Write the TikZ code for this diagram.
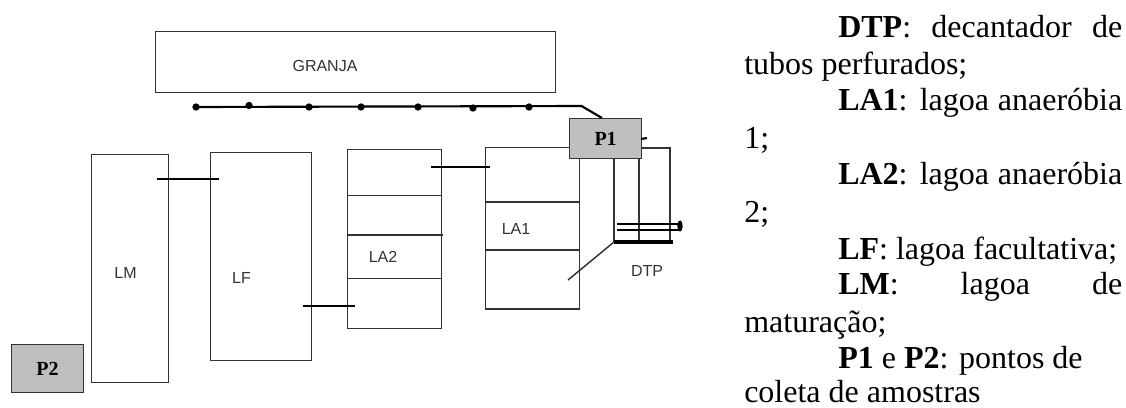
\documentclass[tikz,border=0pt]{standalone}
\usepackage{fontspec}
\usetikzlibrary{shapes.geometric}
\setmainfont{Liberation Serif}
\setsansfont{Liberation Sans}
\definecolor{pgray}{HTML}{BFBFBF}
\definecolor{ln}{HTML}{333333}
\tikzset{
 x=0.75pt,y=-0.75pt,
 tank/.style={draw=ln,line width=0.9pt,fill=white,inner sep=0,anchor=north west},
 thin line/.style={draw=ln,line width=0.9pt},
 pipe/.style={draw=black,line width=1.6pt},
 dotm/.style={circle,fill=black,inner sep=0,minimum size=5.5pt},
 point/.style={draw=ln,line width=0.9pt,fill=pgray,inner sep=0,font=\fontsize{15}{17}\bfseries\selectfont},
 lab/.style={font=\sffamily\fontsize{12}{14}\selectfont,text=ln,inner sep=0},
 txt/.style={anchor=base west,inner sep=0,font=\fontsize{24}{28}\selectfont},
}
\begin{document}
\begin{tikzpicture}
\useasboundingbox (0,0) rectangle (1126,407);
\node[tank,minimum width=300pt,minimum height=45.75pt] (granja) at (154.5,31) {};
\node[lab] (tg) at (325,66) {GRANJA};
\foreach \n/\x/\y in {d1/196/107,d2/249/105.5,d3/309/107,d4/361/107,d5/418/107,d6/473/108,d7/529/107}
  \node[dotm] (\n) at (\x,\y) {};
\coordinate (bend) at (581.5,106);
\coordinate (p1in) at (602,118);
\node[tank,minimum width=57.75pt,minimum height=171pt] (LM) at (90.5,154) {};
\node[tank,minimum width=76pt,minimum height=156pt] (LF) at (209.5,152) {};
\node[tank,minimum width=70.5pt,minimum height=134pt] (LA2) at (347,149) {};
\node[tank,minimum width=70.5pt,minimum height=121pt] (LA1) at (485,147) {};
\draw[thin line] (347,195.5) -- (441,195.5) (347,235) -- (443,235) (347,278.5) -- (441,278.5);
\draw[thin line] (485,202) -- (579,202) (485,250) -- (579,250);
\node[lab] (tlm) at (125.5,273) {LM};
\node[lab] (tlf) at (241.5,278) {LF};
\node[lab] (tla2) at (383,257) {LA2};
\node[lab] (tla1) at (516,229) {LA1};
\coordinate (c1a) at (157,179); \coordinate (c1b) at (219,179);
\coordinate (c2a) at (303,306); \coordinate (c2b) at (355,306);
\coordinate (c3a) at (431,167); \coordinate (c3b) at (490,167);
\draw[pipe] (c1a) -- (c1b);
\draw[pipe] (c2a) -- (c2b);
\draw[pipe] (c3a) -- (c3b);
\coordinate (t1) at (614,158); \coordinate (b1) at (614,242);
\coordinate (t2) at (639,158); \coordinate (b2) at (639,240);
\coordinate (t3) at (641,148); \coordinate (t4) at (670,148); \coordinate (b3) at (670,242);
\coordinate (b4) at (673,242);
\coordinate (inl) at (568,280);
\draw[thin line] (t1) -- (b1) (t2) -- (b2) (t3) -- (t4) -- (b3);
\draw[draw=black,line width=3.4pt] (b1) -- (b4);
\draw[draw=ln,line width=1.1pt] (b1) -- (inl);
\coordinate (s1a) at (617,224); \coordinate (s1b) at (680,224);
\coordinate (s2a) at (617,230); \coordinate (s2b) at (680,230);
\coordinate (s1c) at (660,224); \coordinate (s2c) at (660,230);
\draw[draw=black,line width=0.9pt] (s1a) -- (s1b) (s2a) -- (s2b);
\draw[draw=black,line width=1.9pt,dash pattern=on 3pt off 3pt] (s1a) -- (s1c) (s2a) -- (s2c);
\node[fill=black,ellipse,inner sep=0,minimum width=4pt,minimum height=8.5pt] (blob) at (680,226) {};
\node[lab] (tdtp) at (647,271) {DTP};
\node[point,minimum width=54pt,minimum height=30pt,anchor=north west] (P1) at (569,118) {P1};
\draw[pipe] (d1.center) -- (bend) -- (p1in);
\coordinate (tk1) at (641,139); \coordinate (tk2) at (647,138);
\draw[pipe] (tk1) -- (tk2);
\node[point,minimum width=54.5pt,minimum height=36pt,anchor=north west] (P2) at (10.5,344) {P2};
\node[txt] (l1) at (838,37) {\makebox[213pt][s]{\textbf{DTP}: decantador de}};
\node[txt] (l2) at (744,74) {tubos perfurados;};
\node[txt] (l3) at (838,110) {\makebox[213pt][s]{\textbf{LA1}: lagoa anaeróbia}};
\node[txt] (l4) at (744,148) {1;};
\node[txt] (l5) at (838,184) {\makebox[213pt][s]{\textbf{LA2}: lagoa anaeróbia}};
\node[txt] (l6) at (744,222) {2;};
\node[txt] (l7) at (838,259) {\textbf{LF}: lagoa facultativa;};
\node[txt] (l8) at (838,294) {\makebox[213pt][s]{\textbf{LM}: lagoa de}};
\node[txt] (l9) at (744,332) {maturação;};
\node[txt] (l10) at (838,368) {\textbf{P1} e \textbf{P2}: pontos de};
\node[txt] (l11) at (744,402) {coleta de amostras};
\end{tikzpicture}
\end{document}
